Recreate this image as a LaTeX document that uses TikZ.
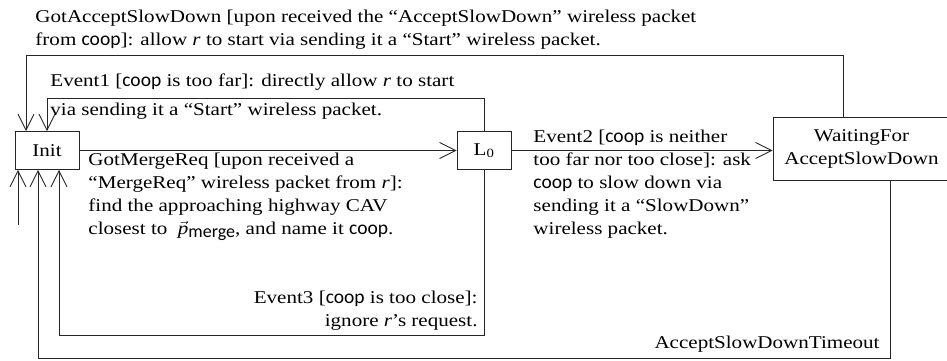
\documentclass[tikz,border=0pt]{standalone}
\usepackage{fontspec}
\setmainfont[FakeStretch=1.17]{Liberation Serif}
\newfontfamily\cpf{Carlito}
\usetikzlibrary{arrows.meta}
\newcommand{\coop}{{\cpf\fontsize{19.5}{23}\selectfont coop}}
\begin{document}
\begin{tikzpicture}[x=1pt, y=-1pt,
  font=\fontsize{18}{23}\selectfont,
  line width=0.9pt, draw=black!85,
  >={Straight Barb[length=16pt,width=16pt]},
  state/.style={draw, rectangle, inner sep=0pt, align=center},
  lbl/.style={inner sep=0pt, align=left},
  lblr/.style={inner sep=0pt, align=right}]
\useasboundingbox (0,0) rectangle (947,361);

% states
\node[state, minimum width=64pt, minimum height=38pt] (init) at (47,150.5) {Init};
\node[state, minimum width=54pt, minimum height=38pt] (l0) at (484,150.5) {L\textsubscript{0}};
\node[state, minimum width=177pt, minimum height=63pt] (wait) at (861.5,148.5) {WaitingFor\\AcceptSlowDown};

% corner points of the routed transitions
\coordinate (g1) at (843,55);
\coordinate (g2) at (26,55);
\coordinate (e1) at (47,98);
\coordinate (e3) at (59,335);
\coordinate (tx) at (890,358);
\coordinate (to) at (38,358);
\coordinate (st) at (18,225);

% transitions
\draw[->] (g1 |- wait.north) -- (g1) -- (g2) -- (g2 |- init.north);
\draw[->] (l0.north) |- (e1) -- (e1 |- init.north);
\draw[->] (init.east) -- (l0.west);
\draw[->] (l0.east) -- (l0.east -| wait.west);
\draw[->] (l0.south) |- (e3) -- (e3 |- init.south);
\draw[->] (tx |- wait.south) -- (tx) -- (to) -- (to |- init.south);
\draw[->] (st) -- (st |- init.south);

% transition labels
\node[lbl, anchor=north west] (lblA) at (35,10)
  {GotAcceptSlowDown [upon received the “AcceptSlowDown” wireless packet\\
   from \coop]: allow \textit{r} to start via sending it a “Start” wireless packet.};
\node[lbl, anchor=north west, font=\fontsize{18}{29}\selectfont] (lblE1) at (50,73)
  {Event1 [\coop{} is too far]: directly allow \textit{r} to start\\
   via sending it a “Start” wireless packet.};
\node[lbl, anchor=north west] (lblM) at (88,153)
  {GotMergeReq [upon received a\\
   “MergeReq” wireless packet from \textit{r}]:\\
   find the approaching highway CAV\\
   closest to \ $\vec{\textit{p}}$\raisebox{-3pt}{\cpf\fontsize{18}{18}\selectfont merge}, and name it \coop.};
\node[lbl, anchor=north west] (lblE2) at (533,130)
  {Event2 [\coop{} is neither\\
   too far nor too close]: ask\\
   \coop{} to slow down via\\
   sending it a “SlowDown”\\
   wireless packet.};
\node[lblr, anchor=north east] (lblE3) at (478,291)
  {Event3 [\coop{} is too close]:\\
   ignore \textit{r}’s request.};
\node[lblr, anchor=base east] (lblT) at (880,348) {AcceptSlowDownTimeout};
\end{tikzpicture}
\end{document}
